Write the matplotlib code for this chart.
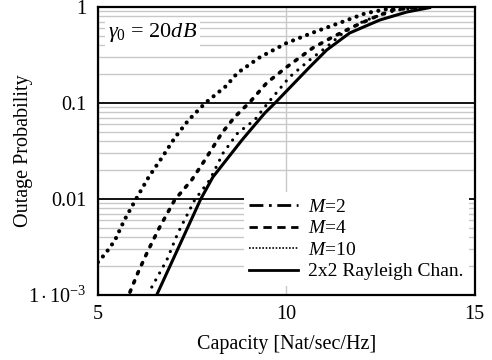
import matplotlib
matplotlib.use("Agg")
import matplotlib.pyplot as plt
from matplotlib.lines import Line2D
from matplotlib.ticker import FixedLocator, FixedFormatter, LogLocator, NullFormatter

plt.rcParams['font.family'] = ['Liberation Serif', 'DejaVu Serif']
plt.rcParams['mathtext.fontset'] = 'custom'
plt.rcParams['mathtext.rm'] = 'Liberation Serif'
plt.rcParams['mathtext.it'] = 'Liberation Serif:italic'

# Data
m2_x = [5.0, 5.2, 5.45, 5.7, 6.0, 6.35, 6.7, 7.05, 7.4, 7.85, 8.4, 8.7, 9.3, 10.0, 10.7, 11.4, 12.1, 12.9, 13.3]
m2_p = [0.0022, 0.0027, 0.0037, 0.006, 0.0098, 0.017, 0.027, 0.044, 0.066, 0.10, 0.15, 0.205, 0.30, 0.42, 0.54, 0.68, 0.86, 0.99, 1.0]

m4_x = [5.85, 6.06, 6.33, 6.64, 7.04, 7.49, 7.84, 8.29, 8.63, 9.03, 9.48, 10.01, 10.7, 11.23, 11.76, 12.29, 12.82, 13.54]
m4_p = [0.00107, 0.0017, 0.0029, 0.0051, 0.0098, 0.0158, 0.0255, 0.0487, 0.0715, 0.102, 0.162, 0.237, 0.374, 0.487, 0.619, 0.768, 0.93, 1.0]

m10_x = [6.43, 6.83, 7.12, 7.57, 7.97, 8.32, 8.71, 9.16, 9.51, 10.09, 10.62, 11.07, 11.5, 11.95, 12.27, 12.93, 13.67]
m10_p = [0.00121, 0.00232, 0.0044, 0.0098, 0.0158, 0.030, 0.0487, 0.0665, 0.1, 0.187, 0.281, 0.383, 0.536, 0.681, 0.768, 0.93, 1.0]

ray_x = [6.56, 7.73, 8.05, 8.82, 9.43, 9.70, 10.62, 11.07, 11.68, 12.48, 13.2, 13.8]
ray_p = [0.001, 0.01, 0.0169, 0.041, 0.0787, 0.1, 0.237, 0.356, 0.536, 0.732, 0.887, 0.985]

labels = [r"$\it{M}$=2", r"$\it{M}$=4", r"$\it{M}$=10", "2x2 Rayleigh Chan."]
yticks = [1e-3, 1e-2, 1e-1, 1]
ytick_labels = [r"$1\cdot10^{-3}$", "0.01", "0.1", "1"]
xticks = [5, 10, 15]

FS = 14.5

fig = plt.figure(figsize=(4.92, 3.6), dpi=100)
ax = fig.add_axes([0.199, 0.1806, 0.766, 0.8])

ax.set_yscale('log')
ax.set_xlim(5, 15)
ax.set_ylim(1e-3, 1)

# grid
ax.yaxis.set_major_locator(FixedLocator(yticks))
ax.yaxis.set_major_formatter(FixedFormatter(ytick_labels))
ax.yaxis.set_minor_locator(LogLocator(base=10, subs=range(2, 10)))
ax.yaxis.set_minor_formatter(NullFormatter())
ax.xaxis.set_major_locator(FixedLocator(xticks))
ax.grid(True, which='minor', axis='y', color='#c8c8c8', lw=1.0)
ax.grid(True, which='major', axis='y', color='black', lw=1.3)
ax.grid(True, which='major', axis='x', color='#c8c8c8', lw=1.0)
ax.set_axisbelow(True)
ax.tick_params(which='both', length=0, labelsize=FS)
ax.tick_params(axis='y', pad=8)
ax.tick_params(axis='x', pad=7)

for s in ax.spines.values():
    s.set_linewidth(1.6)

ax.plot(m2_x, m2_p, color='black', lw=3.0, linestyle=(0, (0.01, 1.8)), dash_capstyle='round')
ax.plot(m4_x, m4_p, color='black', lw=2.6, linestyle=(0, (0.65, 2.1)), dash_capstyle='round')
ax.plot(m10_x, m10_p, color='black', lw=2.3, linestyle=(0, (0.01, 2.5)), dash_capstyle='round')
ax.plot(ray_x, ray_p, color='black', lw=2.2, linestyle='-')

handles = [
    Line2D([], [], color='black', lw=2, linestyle=(0, (5, 2, 1, 2))),
    Line2D([], [], color='black', lw=2, linestyle=(0, (3, 2))),
    Line2D([], [], color='black', lw=1.2, linestyle=(0, (1, 1))),
    Line2D([], [], color='black', lw=2, linestyle='-'),
]
leg = ax.legend(handles, labels, loc='lower right', bbox_to_anchor=(1.0, 0.01),
                frameon=True, fancybox=False, framealpha=1, edgecolor='none',
                facecolor='white', fontsize=14, handlelength=2.5, handletextpad=0.5,
                labelspacing=0.2, borderpad=0.3, borderaxespad=0.3)

ax.text(5.27, 0.54, r"$\gamma_0$ = 20$\it{dB}$", fontsize=16, va='center', ha='left',
        bbox=dict(facecolor='white', edgecolor='none', pad=2))

ax.set_xlabel("Capacity [Nat/sec/Hz]", fontsize=FS)
ax.set_ylabel("Outage Probability", fontsize=FS)
ax.xaxis.set_label_coords(0.5, -0.14)
ax.yaxis.set_label_coords(-0.172, 0.5)

fig.savefig("out.png", dpi=100)
